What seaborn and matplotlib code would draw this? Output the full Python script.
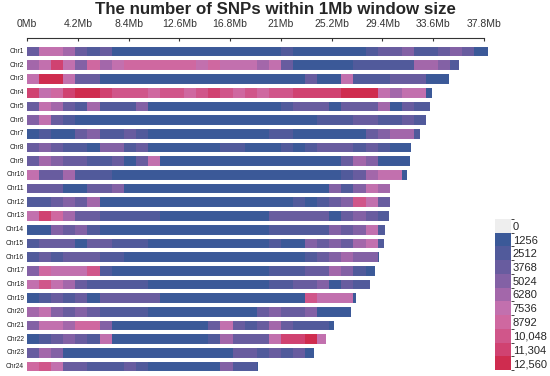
import numpy as np
import pandas as pd
import matplotlib
matplotlib.use("Agg")
import matplotlib.pyplot as plt
from matplotlib.colors import ListedColormap, BoundaryNorm
from matplotlib.patches import Rectangle
import seaborn as sns

# chromosome names and lengths (Mb)
chroms = ["Chr%d" % i for i in range(1, 25)]
chr_len = [38.1, 35.7, 34.9, 33.5, 33.3, 33.0, 32.5, 31.8, 31.7, 31.4, 30.0, 30.0,
           29.9, 29.6, 29.5, 29.1, 28.8, 28.4, 27.2, 26.8, 25.4, 24.7, 23.7, 19.1]

# SNP counts per 1Mb window
chr1 = [3100, 6900, 6900, 5600, 3100, 1900, 2600, 800, 900, 700, 800, 1000, 900, 900, 700, 800, 600, 900, 800, 700,
        900, 1300, 1000, 700, 800, 900, 1100, 1200, 1900, 3100, 3100, 4400, 1900, 1900, 3100, 4400, 3100, 900, 800]
chr2 = [5600, 6900, 10600, 6900, 4400, 8100, 5600, 6900, 8100, 8100, 8100, 8100, 8100, 8100, 6900, 7600, 6900, 6900,
        6900, 5600, 6900, 3100, 900, 800, 1000, 900, 1200, 1900, 2000, 1800, 1900, 2100, 5600, 5600, 4400, 1900]
chr3 = [6900, 11900, 11900, 6900, 3100, 3100, 800, 900, 700, 800, 900, 800, 1000, 700, 800, 900, 800, 1100, 800, 700,
        800, 900, 800, 2600, 900, 800, 6300, 1900, 2000, 1900, 3100, 3200, 3100, 900, 800]
chr4 = [10600, 6900, 8100, 10600, 11900, 11900, 10600, 9400, 9400, 9400, 8100, 9400, 9400, 8100, 9400, 10600, 9400,
        8100, 9400, 8100, 9400, 9400, 10600, 10600, 10600, 10600, 11900, 11900, 11900, 6900, 5600, 6900, 6900, 900]
chr5 = [3100, 6900, 5600, 3100, 1900, 5600, 1900, 2000, 1900, 4400, 800, 900, 700, 800, 900, 800, 1000, 800, 700, 900,
        800, 1900, 3100, 3100, 2600, 900, 3100, 3100, 3100, 5600, 900, 3100, 1900, 1900]
chr6 = [4400, 6900, 3100, 1900, 900, 800, 700, 800, 900, 800, 700, 800, 900, 1100, 800, 700, 900, 800, 900, 800,
        700, 900, 1000, 800, 1900, 1900, 1900, 3100, 3100, 1900, 2000, 2600, 1900]
chr7 = [900, 1900, 900, 1000, 3100, 4400, 1900, 2000, 3100, 1900, 800, 700, 900, 800, 700, 800, 900, 800, 700, 800,
        1900, 1900, 700, 900, 800, 1000, 900, 1100, 3100, 3800, 5600, 5600, 1900]
chr8 = [3100, 4400, 3100, 1900, 1900, 900, 4400, 4400, 1900, 3100, 800, 900, 800, 700, 900, 800, 1900, 1900, 700, 900,
        800, 1900, 1000, 1900, 3100, 3100, 3100, 1900, 2600, 1900, 900, 1000]
chr9 = [3100, 5600, 4400, 3100, 3100, 1900, 1900, 3100, 900, 3100, 6900, 800, 900, 700, 800, 900, 800, 1200, 800, 900,
        800, 900, 1000, 900, 1200, 1100, 3100, 5600, 5000, 900, 800, 1000]
chr10 = [6900, 3100, 3100, 5600, 1900, 1900, 1900, 800, 700, 800, 900, 800, 700, 900, 800, 900, 800, 700, 800, 900,
         800, 900, 800, 1000, 900, 1100, 1900, 3100, 5600, 6900, 6300, 900]
chr11 = [3100, 3100, 3100, 900, 1000, 3100, 3100, 4400, 900, 800, 700, 800, 900, 800, 700, 900, 800, 900, 800, 700,
         900, 800, 1000, 900, 1100, 5000, 1900, 4400, 6900, 5600]
chr12 = [1900, 2000, 3100, 4400, 3100, 5600, 900, 800, 700, 800, 900, 800, 700, 900, 800, 900, 800, 700, 900, 800,
         1000, 900, 1300, 900, 1900, 2600, 4400, 9400, 6900, 3100]
chr13 = [6900, 10600, 8100, 5600, 3100, 3100, 1900, 1900, 2000, 1900, 1900, 900, 800, 700, 800, 900, 800, 900, 1000,
         1100, 3100, 2600, 3100, 2600, 3100, 900, 3100, 4400, 3100, 1900]
chr14 = [900, 1000, 4400, 3100, 4400, 1900, 900, 800, 700, 800, 900, 800, 700, 900, 800, 900, 800, 700, 900, 1000,
         1300, 1900, 1900, 2100, 1900, 4400, 3100, 4400, 6900, 1900]
chr15 = [1900, 3100, 3100, 3100, 900, 3100, 3100, 1900, 1900, 1300, 800, 700, 900, 800, 700, 800, 900, 800, 700, 900,
         1900, 900, 1000, 4400, 3100, 4400, 3100, 5600, 6900, 1900]
chr16 = [1900, 3100, 1900, 3100, 3100, 3100, 1900, 1900, 900, 800, 700, 800, 900, 800, 700, 900, 800, 900, 800, 700,
         900, 800, 1000, 1900, 3100, 4400, 5600, 4400, 4400, 900]
chr17 = [4400, 8100, 6900, 6900, 6900, 9400, 1900, 800, 700, 800, 900, 800, 700, 900, 800, 900, 800, 700, 900, 800,
         1900, 2000, 1900, 3100, 3100, 5600, 4400, 1900, 900]
chr18 = [6900, 9400, 6900, 5600, 3100, 1900, 1900, 1900, 1900, 1300, 800, 900, 800, 700, 900, 800, 900, 800, 700, 900,
         1900, 1900, 3100, 3100, 4400, 900, 3100, 1900, 1900]
chr19 = [900, 1900, 3100, 1900, 3100, 900, 3100, 3100, 2600, 3100, 3100, 900, 800, 700, 800, 900, 800, 700, 900, 800,
         900, 800, 1000, 9400, 6900, 6900, 6900, 900]
chr20 = [5600, 6900, 4400, 3100, 4400, 3100, 1900, 1900, 1900, 1900, 900, 800, 700, 900, 800, 900, 800, 700, 900, 3100,
         4400, 3100, 3100, 4400, 900, 800, 900]
chr21 = [4400, 6900, 6900, 5600, 8100, 8100, 4400, 900, 800, 700, 800, 900, 800, 700, 900, 3100, 6300, 2600, 1900,
         3100, 5600, 3100, 1900, 2000, 1900, 900]
chr22 = [900, 1900, 3100, 4400, 3100, 1900, 6900, 900, 800, 700, 800, 900, 800, 700, 900, 1900, 5600, 3100, 3100, 3100,
         6900, 10600, 10600, 11900, 6900]
chr23 = [3100, 5600, 4400, 900, 800, 700, 800, 900, 800, 700, 900, 800, 900, 800, 700, 900, 800, 2600, 3100, 2000,
         2600, 1900, 3100, 900]
chr24 = [8100, 9400, 6900, 3100, 3100, 1900, 1900, 1900, 3100, 1900, 900, 800, 700, 800, 900, 800, 4400, 1900, 1900, 900]

density = [chr1, chr2, chr3, chr4, chr5, chr6, chr7, chr8, chr9, chr10, chr11, chr12,
           chr13, chr14, chr15, chr16, chr17, chr18, chr19, chr20, chr21, chr22, chr23, chr24]

legend_breaks = [0, 1256, 2512, 3768, 5024, 6280, 7536, 8792, 10048, 11304, 12560]
legend_labels = ["0", "1256", "2512", "3768", "5024", "6280", "7536", "8792", "10,048", "11,304", "12,560"]
axis_ticks = [0, 4.2, 8.4, 12.6, 16.8, 21, 25.2, 29.4, 33.6, 37.8]
axis_labels = ["0Mb", "4.2Mb", "8.4Mb", "12.6Mb", "16.8Mb", "21Mb", "25.2Mb", "29.4Mb", "33.6Mb", "37.8Mb"]

nbins = max(len(d) for d in density)
mat = pd.DataFrame([d + [np.nan] * (nbins - len(d)) for d in density], index=chroms)

colors = ["#eeeeee", "#3b5998", "#515a9b", "#685c9f", "#8361a5", "#a367aa", "#c270ae",
          "#cf68a0", "#d0568a", "#d04271", "#cf2c4f"]
cmap = ListedColormap(colors)
bounds = [-0.5, 0.5] + legend_breaks[1:]
norm = BoundaryNorm(bounds, cmap.N)
mids = [(bounds[i] + bounds[i + 1]) / 2 for i in range(len(bounds) - 1)]

sns.set_style("white")
plt.rcParams['font.family'] = ['Liberation Sans', 'DejaVu Sans']

fig = plt.figure(figsize=(5.5, 3.76), dpi=100)
ax = fig.add_axes([27 / 550, 2.5 / 376, 465.5 / 550, 335.6 / 376])
cax = fig.add_axes([495 / 550, 6 / 376, 15.7 / 550, 151 / 376])

sns.heatmap(mat, ax=ax, cmap=cmap, norm=norm, cbar_ax=cax, cbar_kws=dict(ticks=mids))

ax.set_xlim(0, 38.5)
ax.set_ylim(24, -0.5)

# trim the last partial window of each chromosome
for i, L in enumerate(chr_len):
    ax.add_patch(Rectangle((L, i), nbins + 1 - L, 1, color="white", lw=0, zorder=3))
# white gaps between chromosomes
for i in range(25):
    ax.axhline(i, color="white", lw=2.9, zorder=4)

ax.set_yticks(np.arange(24) + 0.5)
ax.set_yticklabels(chroms, fontsize=4.8, rotation=0)
ax.tick_params(axis="y", length=0, pad=2, colors="#222222")

ax.xaxis.tick_top()
ax.set_xticks(axis_ticks)
ax.set_xticklabels(axis_labels, fontsize=7.5, rotation=0)
ax.tick_params(axis="x", direction="in", length=2.5, width=0.8, pad=6.5, colors="#333333")
ax.spines["top"].set_visible(True)
ax.spines["top"].set_bounds(0, 37.8)
ax.spines["top"].set_linewidth(0.8)
ax.spines["top"].set_color("#333333")
ax.set_xlabel("")
ax.set_ylabel("")

fig.text(0.5, 1 - 10 / 376, "The number of SNPs within 1Mb window size",
         ha="center", va="center", fontsize=12.2, fontweight="bold")

cbar = ax.collections[0].colorbar
cbar.ax.invert_yaxis()
cbar.set_ticks(mids)
cbar.set_ticklabels(legend_labels)
cbar.ax.tick_params(length=0, labelsize=8, pad=1.5)
cbar.outline.set_visible(False)

fig.savefig("out.png", dpi=100)
